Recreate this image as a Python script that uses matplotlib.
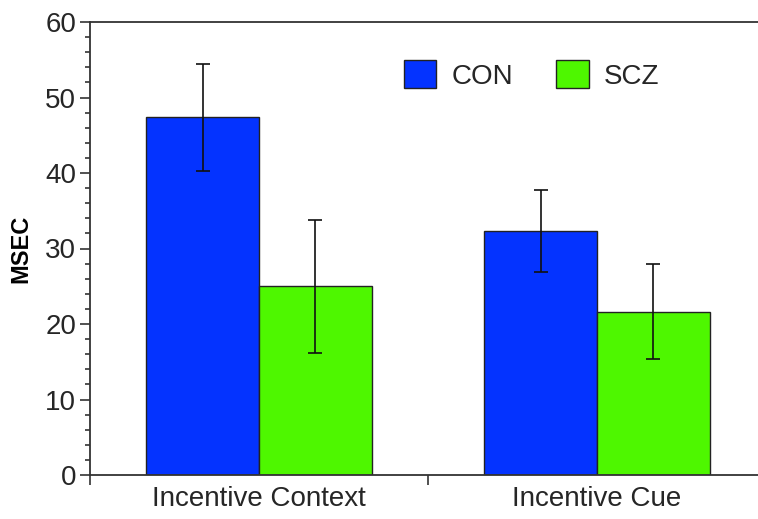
import numpy as np
import matplotlib
matplotlib.use("Agg")
from matplotlib import pyplot as plt

# datos
condiciones = ["Incentive Context", "Incentive Cue"]
grupos = ["CON", "SCZ"]
con_media = [47.4, 32.3]
con_err = [7.1, 5.4]
scz_media = [25.0, 21.6]
scz_err = [8.8, 6.3]

plt.rcParams['font.family'] = ['Liberation Sans', 'DejaVu Sans']
color_texto = '#262626'

fig = plt.figure(figsize=(7.58, 5.19), dpi=100)
ax = fig.add_axes([90 / 758, 44 / 519, 676 / 758, 453 / 519])

x = np.arange(len(condiciones)) + 0.5
ancho = 1 / 3
err_kw = dict(ecolor='#111111', elinewidth=1.2, capsize=5, capthick=1.2)
ax.bar(x - ancho / 2, con_media, ancho, yerr=con_err, color='#0433ff',
       edgecolor='#222222', linewidth=1.0, label=grupos[0], error_kw=err_kw)
ax.bar(x + ancho / 2, scz_media, ancho, yerr=scz_err, color='#4ef700',
       edgecolor='#222222', linewidth=1.0, label=grupos[1], error_kw=err_kw)

ax.set_xlim(0, 2)
ax.set_ylim(0, 60)
ax.set_yticks(np.arange(0, 61, 10))
ax.set_yticks(np.arange(0, 61, 2), minor=True)
ax.set_xticks([0, 1, 2])
ax.set_xticklabels([])
ax.set_xticks(x, minor=True)
ax.set_xticklabels(condiciones, minor=True)
ax.tick_params(axis='x', which='minor', length=0, pad=8)
ax.tick_params(axis='x', which='major', length=7, width=1.2, color='#333333')
ax.tick_params(axis='y', which='major', length=7, width=1.2, color='#333333', pad=3)
ax.tick_params(axis='y', which='minor', length=3.5, width=1.2, color='#333333')
ax.tick_params(which='both', labelsize=20, labelcolor=color_texto)

ax.spines['right'].set_visible(False)
for s in ['left', 'top', 'bottom']:
    ax.spines[s].set_color('#333333')
    ax.spines[s].set_linewidth(1.3)

ax.set_ylabel("MSEC", fontsize=17, fontweight='bold', color='black', labelpad=9)

ax.legend(loc='center left', bbox_to_anchor=(0.464, 0.883), frameon=False,
          fontsize=20, ncol=2, handlelength=1.17, handleheight=1.17,
          handletextpad=0.55, columnspacing=1.55, borderpad=0, borderaxespad=0,
          labelcolor=color_texto)

fig.savefig("out.png", dpi=100)
